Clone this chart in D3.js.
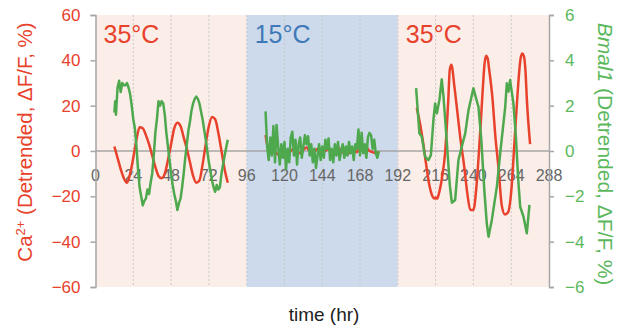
<!DOCTYPE html>
<html>
<head>
<meta charset="utf-8">
<script src="https://cdn.jsdelivr.net/npm/d3@7"></script>
<style>
  body { margin: 0; background: #fff; }
  svg { font-family: "Liberation Sans", Arial, sans-serif; }
</style>
</head>
<body>
<svg id="chart" width="624" height="329"></svg>
<script>
// temperature phases (hr)
var phases = [
  { from: 0, to: 96, label: '35\u00B0C', fill: '#fbeee8', color: '#e8412c' },
  { from: 96, to: 192, label: '15\u00B0C', fill: '#ccdaeb', color: '#3f78b8' },
  { from: 192, to: 288, label: '35\u00B0C', fill: '#fbeee8', color: '#e8412c' }
];

var xTicks = [0, 24, 48, 72, 96, 120, 144, 168, 192, 216, 240, 264, 288];
var caTicks = [-60, -40, -20, 0, 20, 40, 60];
var bmalTicks = [-6, -4, -2, 0, 2, 4, 6];

// Ca2+ (left axis), [hour, %]
var ca1 = [[12,2],[14,-3],[16,-8],[18,-12],[20,-14],[22,-10],[24,-3],[26,5],[28,10.5],[30,10],[32,7],[34,3],[36,-2],
  [38,-7],[40,-11],[42,-12],[44,-10],[46,-4],[48,3],[50,10],[52,12.5],[54,11],[56,6],[58,1],[60,-5],[62,-11],[64,-14],
  [66,-13],[68,-6],[70,3],[72,11],[74,15],[76,14],[78,8],[80,0],[82,-8],[84,-14]];
var ca2 = [[108,7],[109,3],[110,1],[112,0.5],[114,-0.5],[116,-1.5],[118,-2.5],[120,-1],[122,-2],[124,0],[126,1],[128,0],
  [130,-1],[132,0.5],[134,1.5],[136,0],[138,-1],[140,0.5],[142,1],[144,-0.5],[146,0],[148,1],[150,-0.5],[152,0],[154,1.5],
  [156,0],[158,-1],[160,-1.5],[162,0],[164,0.5],[166,-0.5],[168,1],[170,0.5],[172,1.5],[174,0],[176,-0.5],[178,-1],[180,-0.5]];
var ca3 = [[204,19],[206,12.5],[208,4],[210,-6],[212,-15],[214,-20],[215,-21],[216,-20.5],[217,-21],[218,-19],[220,-12],
  [222,-1],[224,22],[225,36],[226,38],[228,28],[230,16],[232,4],[234,-6],[236,-18],[238,-26],[240,-26],[242,-15],[244,5],
  [246,28],[247,38],[248,42],[249,41],[250,36],[252,24],[254,6],[256,-8],[258,-24],[260,-28],[262,-27],[264,-18],[266,3],
  [268,25],[270,41],[271,43],[272,42],[273,36],[274,22],[276,3]];

// Bmal1 (right axis), [hour, %]
var bmal1 = [[12,1.7],[12.5,2.2],[13,1.6],[14,2.8],[15,3.1],[16,2.6],[17,3.0],[18,2.9],[19,2.9],[20,3.0],[21,2.8],[22,2.5],
  [23,2.0],[24,1.4],[25,1.0],[26,0.2],[27,-0.8],[28,-1.6],[29,-2.0],[30,-2.4],[31,-2.2],[32,-2.1],[33,-1.7],[34,-1.9],
  [35,-1.4],[36,-1.0],[37,-0.2],[38,0.8],[39,1.4],[40,2.2],[41,2.0],[42,2.2],[43,2.1],[44,1.6],[45,0.8],[46,0.2],[47,-0.4],
  [48,-1.0],[49,-1.5],[50,-1.9],[51,-2.2],[52,-2.6],[53,-2.3],[54,-2.1],[55,-1.6],[56,-1.0],[57,-0.3],[58,0.3],[59,0.9],
  [60,1.3],[61,1.8],[62,2.1],[63,2.3],[64,2.4],[65,2.3],[66,2.1],[68,1.4],[70,0.5],[72,-0.5],[74,-1.3],[75,-1.6],[76,-1.8],
  [77,-1.5],[78,-1.7],[79,-1.6],[80,-1.0],[82,-0.2],[84,0.5]];
var bmal2 = [[108,1.75],[109,0.2],[110,-0.4],[111,0.6],[112,-0.2],[113,1.1],[114,-0.5],[115,1.15],[116,0.2],[117,-0.6],
  [118,0.3],[119,-0.3],[120,0.4],[121,-0.8],[122,0.1],[123,-0.5],[124,0.6],[125,0.85],[126,-0.2],[127,0.5],[128,-0.6],
  [129,0.3],[130,0.6],[131,-0.3],[132,0.2],[133,0.7],[134,0.3],[135,0.65],[136,-0.2],[137,0.3],[138,-0.5],[139,0.1],
  [140,-0.75],[141,-0.2],[142,0.3],[143,-0.4],[144,0.2],[145,-0.3],[146,0.5],[147,0.1],[148,0.55],[149,-0.4],[150,0.1],
  [151,-0.5],[152,0.3],[153,-0.2],[154,0.4],[155,-0.4],[156,0],[157,0.3],[158,-0.3],[159,0.2],[160,-0.2],[161,0.4],
  [162,-0.1],[163,0.2],[164,-0.4],[165,0.3],[166,0.1],[167,0.95],[168,-0.2],[169,0.8],[170,-0.1],[171,0.3],[172,-0.3],
  [173,0.6],[174,0.8],[175,0.7],[176,0.1],[177,0.5],[178,-0.1],[179,-0.3],[180,0]];
var bmal3 = [[203.6,2.77],[205.7,0.78],[207.2,0.63],[209.3,-0.25],[211.4,-0.4],[213,-0.18],[214.6,1.37],[215.7,2.1],
  [216.8,1.66],[218.4,2.25],[219.9,3.16],[221,2.4],[223,0.5],[225,-1.5],[226.3,-2.28],[228.4,-2.16],[230.5,-0.4],
  [232.6,0.19],[234.8,0.78],[236.9,1.81],[240,2.77],[241.7,2.32],[243.2,1.95],[245,0.5],[247,-1.8],[248.5,-3.2],
  [249.6,-3.78],[251.7,-3.04],[254.9,-1.57],[257,-0.1],[260.2,1.95],[261.2,2.99],[262.3,2.62],[263.3,3.13],[265.4,2.1],
  [267,0.6],[268.5,-1.3],[269.7,-2.46],[271.8,-2.9],[273.9,-3.63],[275.6,-2.38]];

var red = '#e8412c', green = '#4ea84e', grey = '#a6a6a6';

var svg = d3.select('#chart');

var x = d3.scaleLinear().domain([0, 288]).range([95.5, 549]);
var yL = d3.scaleLinear().domain([-60, 60]).range([287, 15]);
var yR = d3.scaleLinear().domain([-6, 6]).range([287, 15]);

// phase backgrounds
svg.selectAll('rect.phase')
  .data(phases)
  .enter().append('rect')
  .attr('x', d => x(d.from))
  .attr('y', yL(60))
  .attr('width', d => x(d.to) - x(d.from))
  .attr('height', yL(-60) - yL(60))
  .style('fill', d => d.fill);

// dotted vertical grid
svg.selectAll('line.grid')
  .data(xTicks.slice(1, -1))
  .enter().append('line')
  .attr('x1', d => x(d)).attr('x2', d => x(d))
  .attr('y1', yL(60)).attr('y2', yL(-60))
  .style('stroke', '#c8c8c8')
  .style('stroke-width', 1)
  .style('stroke-dasharray', '2,2');

// zero line
svg.append('line')
  .attr('x1', x(0)).attr('x2', x(288))
  .attr('y1', yL(0)).attr('y2', yL(0))
  .style('stroke', grey)
  .style('stroke-width', 1.5);

// x tick labels
svg.selectAll('text.xt')
  .data(xTicks)
  .enter().append('text')
  .attr('x', d => x(d))
  .attr('y', yL(0) + 30)
  .attr('text-anchor', 'middle')
  .style('font-size', '16px')
  .style('fill', '#666')
  .text(d => d);

// left axis
var left = svg.append('g')
  .attr('transform', 'translate(' + x(0) + ',0)')
  .call(d3.axisLeft(yL).tickValues(caTicks).tickSize(5).tickPadding(10));
left.select('.domain').style('stroke', grey).style('stroke-width', 1.5);
left.selectAll('.tick line').style('stroke', grey).style('stroke-width', 1.5);
left.selectAll('.tick text')
  .style('fill', red)
  .style('font-size', '17px')
  .style('font-family', '"Liberation Sans", Arial, sans-serif');

// right axis
var right = svg.append('g')
  .attr('transform', 'translate(' + x(288) + ',0)')
  .call(d3.axisRight(yR).tickValues(bmalTicks).tickSize(5).tickPadding(11));
right.select('.domain').style('stroke', grey).style('stroke-width', 1.5);
right.selectAll('.tick line').style('stroke', grey).style('stroke-width', 1.5);
right.selectAll('.tick text')
  .style('fill', '#5cb85c')
  .style('font-size', '17px')
  .style('font-family', '"Liberation Sans", Arial, sans-serif');

// series
var lineL = d3.line().x(d => x(d[0])).y(d => yL(d[1])).curve(d3.curveMonotoneX);
var lineR = d3.line().x(d => x(d[0])).y(d => yR(d[1]));

[ca1, ca2, ca3].forEach(function(s) {
  svg.append('path')
    .attr('d', lineL(s))
    .style('fill', 'none')
    .style('stroke', red)
    .style('stroke-width', 2.5)
    .style('stroke-linejoin', 'round');
});
[bmal1, bmal2, bmal3].forEach(function(s) {
  svg.append('path')
    .attr('d', lineR(s))
    .style('fill', 'none')
    .style('stroke', green)
    .style('stroke-width', 2.5)
    .style('stroke-linejoin', 'round');
});

// phase labels
svg.selectAll('text.phase')
  .data(phases)
  .enter().append('text')
  .attr('x', d => x(d.from) + 8)
  .attr('y', 43)
  .style('font-size', '25px')
  .style('fill', d => d.color)
  .text(d => d.label);

// axis titles
var lt = svg.append('text')
  .attr('transform', 'translate(32,142) rotate(-90)')
  .attr('text-anchor', 'middle')
  .style('font-size', '20.5px')
  .style('fill', red);
lt.append('tspan').text('Ca');
lt.append('tspan').attr('dy', -7).style('font-size', '13px').text('2+');
lt.append('tspan').attr('dy', 7).text(' (Detrended, \u0394F/F, %)');

var rt = svg.append('text')
  .attr('transform', 'translate(598,154) rotate(90)')
  .attr('text-anchor', 'middle')
  .style('font-size', '21px')
  .style('fill', '#5cb85c');
rt.append('tspan').style('font-style', 'italic').text('Bmal1');
rt.append('tspan').text(' (Detrended, \u0394F/F, %)');

svg.append('text')
  .attr('x', 324)
  .attr('y', 321)
  .attr('text-anchor', 'middle')
  .style('font-size', '19px')
  .style('fill', '#222')
  .text('time (hr)');
</script>
</body>
</html>
